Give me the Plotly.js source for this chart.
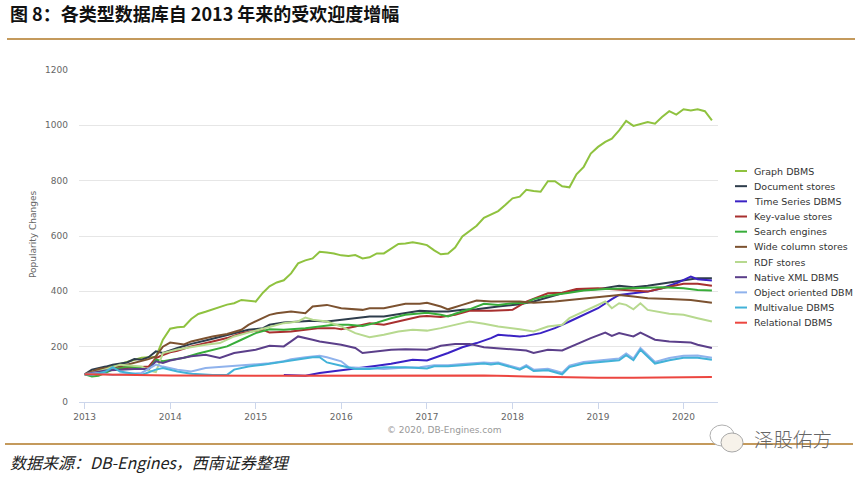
<!DOCTYPE html>
<html><head><meta charset="utf-8">
<script src="https://cdn.plot.ly/plotly-3.0.1.min.js"></script>
<style>html,body{margin:0;padding:0;background:#fff}#chart{width:862px;height:478px}</style>
</head><body><div id="chart"></div>
<script>
// ---- data ----
const chartTitle = '图 8：各类型数据库自 2013 年来的受欢迎度增幅';
const sourceText = '数据来源：DB-Engines，西南证券整理';
const creditText = '© 2020, DB-Engines.com';
const watermarkText = '泽股佑方';
const yAxisTitle = 'Popularity Changes';
const yearTicks = ['2013','2014','2015','2016','2017','2018','2019','2020'];
const yTicks = [0,200,400,600,800,1000,1200];

const seriesNames = ['Graph DBMS','Document stores','Time Series DBMS','Key-value stores','Search engines','Wide column stores','RDF stores','Native XML DBMS','Object oriented DBM','Multivalue DBMS','Relational DBMS'];
const seriesColors = ['#8fc23f','#2e3d4c','#3a22c4','#a8302f','#38ad3a','#7c5230','#b7d98f','#5b3f8a','#8fb2ec','#42b2d8','#ec4640'];

const graphX = ['2013-01','2013-03','2013-05','2013-07','2013-09','2013-10','2013-11','2013-12','2014-01','2014-02','2014-03','2014-04','2014-05','2014-06','2014-07','2014-08','2014-09','2014-10','2014-11','2015-01','2015-02','2015-03','2015-04','2015-05','2015-06','2015-07','2015-08','2015-09','2015-10','2015-11','2015-12','2016-01','2016-02','2016-03','2016-04','2016-05','2016-06','2016-07','2016-08','2016-09','2016-10','2016-11','2016-12','2017-01','2017-02','2017-03','2017-04','2017-05','2017-06','2017-07','2017-08','2017-09','2017-10','2017-11','2017-12','2018-01','2018-02','2018-03','2018-04','2018-05','2018-06','2018-07','2018-08','2018-09','2018-10','2018-11','2018-12','2019-01','2019-02','2019-03','2019-04','2019-05','2019-06','2019-07','2019-08','2019-09','2019-10','2019-11','2019-12','2020-01','2020-02','2020-03','2020-04','2020-05'];
const graphY = [100,115,130,145,160,162,162,225,265,270,272,300,318,326,335,345,352,357,369,363,395,418,432,440,465,501,512,519,543,540,537,530,528,531,519,523,537,537,555,571,573,577,573,567,548,534,537,558,598,618,637,666,678,690,712,736,742,767,763,760,798,798,780,776,823,850,898,922,940,952,982,1016,998,1006,1012,1006,1030,1051,1039,1058,1054,1058,1051,1018];

const docX = ['2013-01','2013-02','2013-04','2013-05','2013-07','2013-08','2013-09','2013-10','2013-11','2013-12','2014-02','2014-04','2014-06','2014-08','2014-10','2014-12','2015-02','2015-03','2015-05','2015-07','2015-09','2015-11','2016-01','2016-05','2016-07','2016-10','2016-12','2017-02','2017-04','2017-06','2017-08','2017-11','2018-02','2018-04','2018-06','2018-08','2018-10','2019-01','2019-04','2019-06','2019-08','2019-10','2020-01','2020-03','2020-05'];
const docY = [100,117,128,135,143,155,153,162,183,177,195,210,222,235,249,261,267,279,287,291,294,291,297,309,309,321,330,327,327,333,335,345,353,363,379,393,403,408,420,415,420,427,439,447,447];

const tsX = ['2015-05','2015-08','2015-10','2016-01','2016-04','2016-06','2016-08','2016-11','2017-01','2017-03','2017-04','2017-06','2017-08','2017-10','2017-11','2018-02','2018-03','2018-05','2018-07','2018-09','2018-11','2019-01','2019-03','2019-04','2019-06','2019-08','2019-10','2019-12','2020-02','2020-03','2020-05'];
const tsY = [98,95,105,114,123,131,138,153,150,167,177,198,213,231,243,237,239,249,267,291,315,339,372,387,393,399,411,429,453,444,439];

const kvX = ['2013-01','2013-03','2013-05','2013-07','2013-10','2013-11','2013-12','2014-01','2014-02','2014-04','2014-07','2014-09','2014-11','2015-02','2015-03','2015-06','2015-08','2015-10','2015-12','2016-01','2016-03','2016-05','2016-07','2016-10','2016-12','2017-01','2017-03','2017-05','2017-07','2017-10','2018-01','2018-03','2018-05','2018-06','2018-08','2018-10','2019-01','2019-04','2019-06','2019-08','2019-10','2020-01','2020-03','2020-05'];
const kvY = [100,110,117,123,128,159,170,180,185,201,219,231,249,261,251,255,261,267,267,263,273,285,279,297,309,311,307,315,330,330,333,363,381,393,395,408,411,405,403,399,411,427,427,420];

const searchX = ['2013-01','2013-02','2013-03','2013-05','2013-07','2013-09','2013-10','2013-11','2013-12','2014-03','2014-05','2014-07','2014-09','2014-11','2015-01','2015-03','2015-05','2015-08','2015-10','2015-12','2016-02','2016-04','2016-06','2016-08','2016-10','2016-12','2017-01','2017-03','2017-04','2017-05','2017-07','2017-09','2017-11','2018-01','2018-03','2018-04','2018-06','2018-09','2018-11','2019-02','2019-05','2019-07','2019-10','2020-01','2020-03','2020-05'];
const searchY = [100,92,95,117,128,125,117,153,147,160,175,189,201,225,249,263,261,267,273,279,279,275,287,303,315,321,323,315,309,319,335,355,351,357,359,372,384,395,403,408,411,411,415,411,405,403];

const wideX = ['2013-01','2013-03','2013-06','2013-08','2013-10','2013-11','2013-12','2014-01','2014-02','2014-03','2014-04','2014-05','2014-07','2014-09','2014-11','2014-12','2015-02','2015-03','2015-04','2015-06','2015-08','2015-09','2015-11','2016-01','2016-04','2016-05','2016-07','2016-10','2016-12','2017-01','2017-03','2017-04','2017-06','2017-08','2017-10','2018-02','2018-04','2018-07','2018-09','2019-01','2019-04','2019-06','2019-08','2019-11','2020-02','2020-05'];
const wideY = [100,119,128,141,155,165,200,215,212,208,219,225,237,246,261,279,303,315,321,327,321,345,351,339,333,339,339,355,355,359,345,335,351,367,363,363,359,363,369,379,387,381,375,372,369,359];

const rdfX = ['2013-01','2013-03','2013-06','2013-09','2013-10','2013-11','2013-12','2014-02','2014-06','2014-08','2014-10','2015-01','2015-03','2015-05','2015-07','2015-08','2015-09','2015-11','2016-01','2016-03','2016-05','2016-07','2016-09','2016-11','2017-01','2017-03','2017-06','2017-07','2017-09','2017-11','2018-02','2018-04','2018-06','2018-08','2018-09','2018-11','2019-01','2019-02','2019-03','2019-04','2019-05','2019-06','2019-07','2019-08','2019-11','2020-01','2020-03','2020-05'];
const rdfY = [100,110,135,128,114,108,177,190,207,213,237,258,273,285,291,305,297,291,273,249,234,243,255,261,258,267,285,291,283,273,263,255,273,279,303,327,351,363,339,357,351,335,357,333,319,315,303,291];

const xmlX = ['2013-01','2013-02','2013-04','2013-08','2013-10','2013-11','2013-12','2014-01','2014-04','2014-06','2014-08','2014-10','2015-01','2015-03','2015-05','2015-06','2015-07','2015-09','2015-10','2016-01','2016-03','2016-04','2016-06','2016-08','2016-10','2017-01','2017-02','2017-03','2017-05','2017-07','2017-09','2017-12','2018-03','2018-04','2018-06','2018-08','2018-10','2018-12','2019-02','2019-03','2019-04','2019-06','2019-07','2019-09','2019-11','2020-02','2020-03','2020-05'];
const xmlY = [100,105,114,119,119,147,141,150,165,171,159,177,189,203,201,219,237,225,219,207,195,177,183,189,191,189,195,203,210,210,198,191,186,177,189,186,210,231,251,239,249,237,251,225,219,215,207,195];

const ooX = ['2013-01','2013-03','2013-05','2013-09','2013-11','2013-12','2014-02','2014-04','2014-06','2014-09','2014-11','2015-01','2015-03','2015-05','2015-06','2015-08','2015-10','2015-11','2016-01','2016-02','2016-04','2016-07','2016-09','2016-12','2017-02','2017-04','2017-06','2017-09','2017-10','2017-11','2018-02','2018-03','2018-04','2018-06','2018-08','2018-09','2018-11','2019-02','2019-04','2019-05','2019-06','2019-07','2019-09','2019-11','2020-01','2020-03','2020-05'];
const ooY = [100,105,98,105,135,128,117,110,123,128,131,135,140,147,155,162,167,162,147,126,123,119,123,126,133,133,137,143,141,143,121,133,117,120,106,131,145,151,157,175,157,195,145,159,167,168,160];

const mvX = ['2013-01','2013-02','2013-04','2013-05','2013-06','2013-09','2013-11','2013-12','2014-02','2014-04','2014-07','2014-09','2014-10','2014-12','2015-02','2015-04','2015-07','2015-09','2015-10','2015-11','2016-01','2016-03','2016-05','2016-07','2016-10','2017-01','2017-02','2017-04','2017-06','2017-09','2017-10','2017-11','2018-02','2018-03','2018-04','2018-06','2018-08','2018-09','2018-11','2019-02','2019-04','2019-05','2019-06','2019-07','2019-09','2019-11','2020-01','2020-03','2020-05'];
const mvY = [100,98,110,126,110,98,117,123,110,102,98,98,117,128,135,143,153,162,162,143,131,119,119,126,126,121,129,129,133,139,136,139,117,129,112,115,100,126,139,145,151,169,151,189,139,151,160,160,153];

const relX = ['2013-01','2013-06','2014-01','2015-01','2016-01','2017-01','2017-09','2018-03','2018-06','2019-01','2019-06','2020-01','2020-05'];
const relY = [100,98,96,95,96,97,96,92,90,88,88,90,90];

const seriesX = [graphX,docX,tsX,kvX,searchX,wideX,rdfX,xmlX,ooX,mvX,relX];
const seriesY = [graphY,docY,tsY,kvY,searchY,wideY,rdfY,xmlY,ooY,mvY,relY];

// ---- layout helpers (pixel -> paper) ----
const W = 862, H = 478, ML = 79, MR = 144, MT = 70, MB = 76;
const PW = W - ML - MR, PH = H - MT - MB;
const px = p => (p - ML) / PW;
const py = p => (H - MB - p) / PH;

const traces = seriesNames.map((n, i) => ({
  type: 'scatter', mode: 'lines', name: n,
  x: seriesX[i].map(d => d + '-01'), y: seriesY[i],
  line: {color: seriesColors[i], width: 2},
  hoverinfo: 'skip', showlegend: false
}));

const shapes = [];
const annotations = [];
const legendTop = 171, legendStep = 15.17;
seriesNames.forEach((n, i) => {
  const yy = legendTop + i * legendStep;
  shapes.push({type: 'line', xref: 'paper', yref: 'paper', x0: px(735), x1: px(747), y0: py(yy), y1: py(yy), line: {color: seriesColors[i], width: 2}});
  annotations.push({xref: 'paper', yref: 'paper', x: px(752), y: py(yy), xanchor: 'left', yanchor: 'middle', text: n, showarrow: false, font: {family: 'DejaVu Sans', size: 9.5, color: '#333'}});
});
// rules
shapes.push({type: 'line', xref: 'paper', yref: 'paper', x0: px(7), x1: px(855), y0: py(39), y1: py(39), line: {color: '#c49a5c', width: 2.2}});
shapes.push({type: 'line', xref: 'paper', yref: 'paper', x0: px(5), x1: px(853), y0: py(444), y1: py(444), line: {color: '#c49a5c', width: 2.2}});
// watermark icon (two chat bubbles)
shapes.push({type: 'circle', xref: 'paper', yref: 'paper', x0: px(710), x1: px(734), y0: py(446), y1: py(425), fillcolor: '#ffffff', line: {color: '#b0b0b0', width: 1}});
shapes.push({type: 'circle', xref: 'paper', yref: 'paper', x0: px(721), x1: px(743), y0: py(452), y1: py(433), fillcolor: '#f7f2ea', line: {color: '#a8a8a8', width: 1}});

annotations.push({xref: 'paper', yref: 'paper', x: px(33), y: py(235), xanchor: 'center', yanchor: 'middle', textangle: -90, text: yAxisTitle, showarrow: false, font: {family: 'DejaVu Sans', size: 9, color: '#666'}});
annotations.push({xref: 'paper', yref: 'paper', x: px(444), y: py(430), xanchor: 'center', yanchor: 'middle', text: creditText, showarrow: false, font: {family: 'DejaVu Sans', size: 9, color: '#999'}});
annotations.push({xref: 'paper', yref: 'paper', x: px(8), y: py(462), xanchor: 'left', yanchor: 'middle', text: sourceText, showarrow: false, font: {family: 'Noto Sans CJK SC', size: 16, color: '#222', style: 'italic'}});
annotations.push({xref: 'paper', yref: 'paper', x: px(752), y: py(438), xanchor: 'left', yanchor: 'middle', text: watermarkText, showarrow: false, font: {family: 'Noto Sans CJK SC', size: 19.5, color: '#666', weight: 300}});

const layout = {
  width: W, height: H,
  margin: {l: ML, r: MR, t: MT, b: MB, pad: 0},
  paper_bgcolor: '#fff', plot_bgcolor: '#fff',
  title: {text: chartTitle, xref: 'container', yref: 'container', x: 10 / W, xanchor: 'left', y: 1 - 15 / H, yanchor: 'middle',
          font: {family: 'Noto Sans CJK SC', size: 18, color: '#111', weight: 'bold'}},
  xaxis: {type: 'date', range: ['2012-12-08', '2020-05-27'],
          tickvals: yearTicks.map(y => y + '-01-01'), ticktext: yearTicks,
          showgrid: false, zeroline: false, showline: true, linecolor: '#ccd6eb', linewidth: 1,
          ticks: 'outside', ticklen: 6, tickcolor: '#ccd6eb', tickwidth: 1,
          tickfont: {family: 'DejaVu Sans', size: 9, color: '#666'}},
  yaxis: {range: [0, 1200], tickvals: yTicks, showgrid: true, gridcolor: '#e6e6e6', gridwidth: 1,
          zeroline: false, showline: false, ticks: '', ticklabelstandoff: 10,
          tickfont: {family: 'DejaVu Sans', size: 9, color: '#666'}},
  showlegend: false,
  shapes: shapes, annotations: annotations
};

Plotly.newPlot('chart', traces, layout, {staticPlot: true, displayModeBar: false});
</script>
</body></html>
